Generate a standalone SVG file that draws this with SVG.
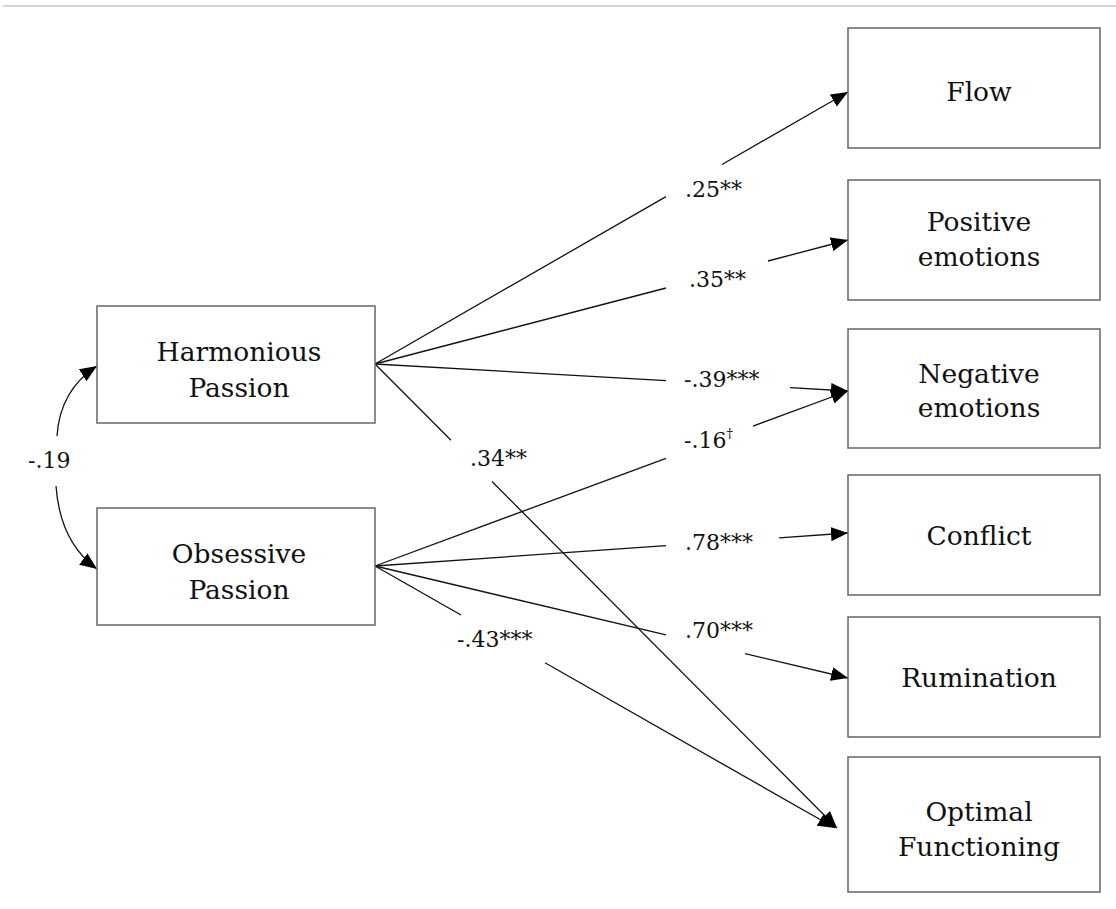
<svg xmlns="http://www.w3.org/2000/svg" width="1116" height="909" viewBox="0 0 1116 909">
<style>
.box{fill:#fff;stroke:#666;stroke-width:1.5}
.bt{font-family:"DejaVu Serif","Liberation Serif",serif;font-size:26.5px;fill:#111;text-anchor:middle}
.lb{font-family:"DejaVu Serif","Liberation Serif",serif;font-size:22px;fill:#111}
.ln{stroke:#111;stroke-width:1.3;fill:none}
</style>
<defs>
<marker id="ah" markerUnits="userSpaceOnUse" markerWidth="18" markerHeight="14" refX="17" refY="7" orient="auto">
<path d="M0,0 L17,7 L0,14 z" fill="#000"/>
</marker>
</defs>
<rect width="1116" height="909" fill="#fff"/>
<line x1="3" y1="6" x2="1116" y2="6" stroke="#c8c8c8" stroke-width="1.5"/>
<g id="connectors">
<path class="ln" d="M375,364 L666,196.6"/><path class="ln" d="M722,164.5 L848,92" marker-end="url(#ah)"/>
<path class="ln" d="M375,364 L666,288"/><path class="ln" d="M768,261 L848,240" marker-end="url(#ah)"/>
<path class="ln" d="M375,364 L666,380.6"/><path class="ln" d="M790,387.7 L848,391" marker-end="url(#ah)"/>
<path class="ln" d="M375,364 L451,440.3"/><path class="ln" d="M492,481.5 L837,828" marker-end="url(#ah)"/>
<path class="ln" d="M375,566 L666,458.3"/><path class="ln" d="M753,426.1 L848,391" marker-end="url(#ah)"/>
<path class="ln" d="M375,566 L666,545.7"/><path class="ln" d="M779,537.8 L848,533" marker-end="url(#ah)"/>
<path class="ln" d="M375,566 L666,634.9"/><path class="ln" d="M745,653.6 L848,678" marker-end="url(#ah)"/>
<path class="ln" d="M375,566 L461,615"/><path class="ln" d="M545,662.8 L835,828" marker-end="url(#ah)"/>
<path class="ln" d="M57,436 Q60,390 97,366" marker-end="url(#ah)"/>
<path class="ln" d="M56,486 Q60,542 97,569" marker-end="url(#ah)"/>
<text class="lb" x="685" y="197">.25**</text>
<text class="lb" x="689" y="287">.35**</text>
<text class="lb" x="684" y="387">-.39***</text>
<text class="lb" x="684" y="448">-.16<tspan font-size="13" dy="-10">†</tspan></text>
<text class="lb" x="685" y="550">.78***</text>
<text class="lb" x="685" y="638">.70***</text>
<text class="lb" x="470" y="466">.34**</text>
<text class="lb" x="457" y="647">-.43***</text>
<text class="lb" x="28" y="468">-.19</text>
</g>
<g id="hp"><rect class="box" x="97" y="306" width="278" height="117"/><text class="bt" x="239" y="361">Harmonious</text><text class="bt" x="239" y="397">Passion</text></g>
<g id="op"><rect class="box" x="97" y="508" width="278" height="117"/><text class="bt" x="239" y="563">Obsessive</text><text class="bt" x="239" y="599">Passion</text></g>
<g id="flow"><rect class="box" x="848" y="28" width="252" height="120"/><text class="bt" x="979" y="101">Flow</text></g>
<g id="pos"><rect class="box" x="848" y="180" width="252" height="120"/><text class="bt" x="979" y="231">Positive</text><text class="bt" x="979" y="266">emotions</text></g>
<g id="neg"><rect class="box" x="848" y="329" width="252" height="119"/><text class="bt" x="979" y="383">Negative</text><text class="bt" x="979" y="417">emotions</text></g>
<g id="conf"><rect class="box" x="848" y="475" width="252" height="120"/><text class="bt" x="979" y="545">Conflict</text></g>
<g id="rum"><rect class="box" x="848" y="617" width="252" height="120"/><text class="bt" x="979" y="687">Rumination</text></g>
<g id="opt"><rect class="box" x="848" y="757" width="252" height="135"/><text class="bt" x="979" y="821">Optimal</text><text class="bt" x="979" y="856">Functioning</text></g>
</svg>
